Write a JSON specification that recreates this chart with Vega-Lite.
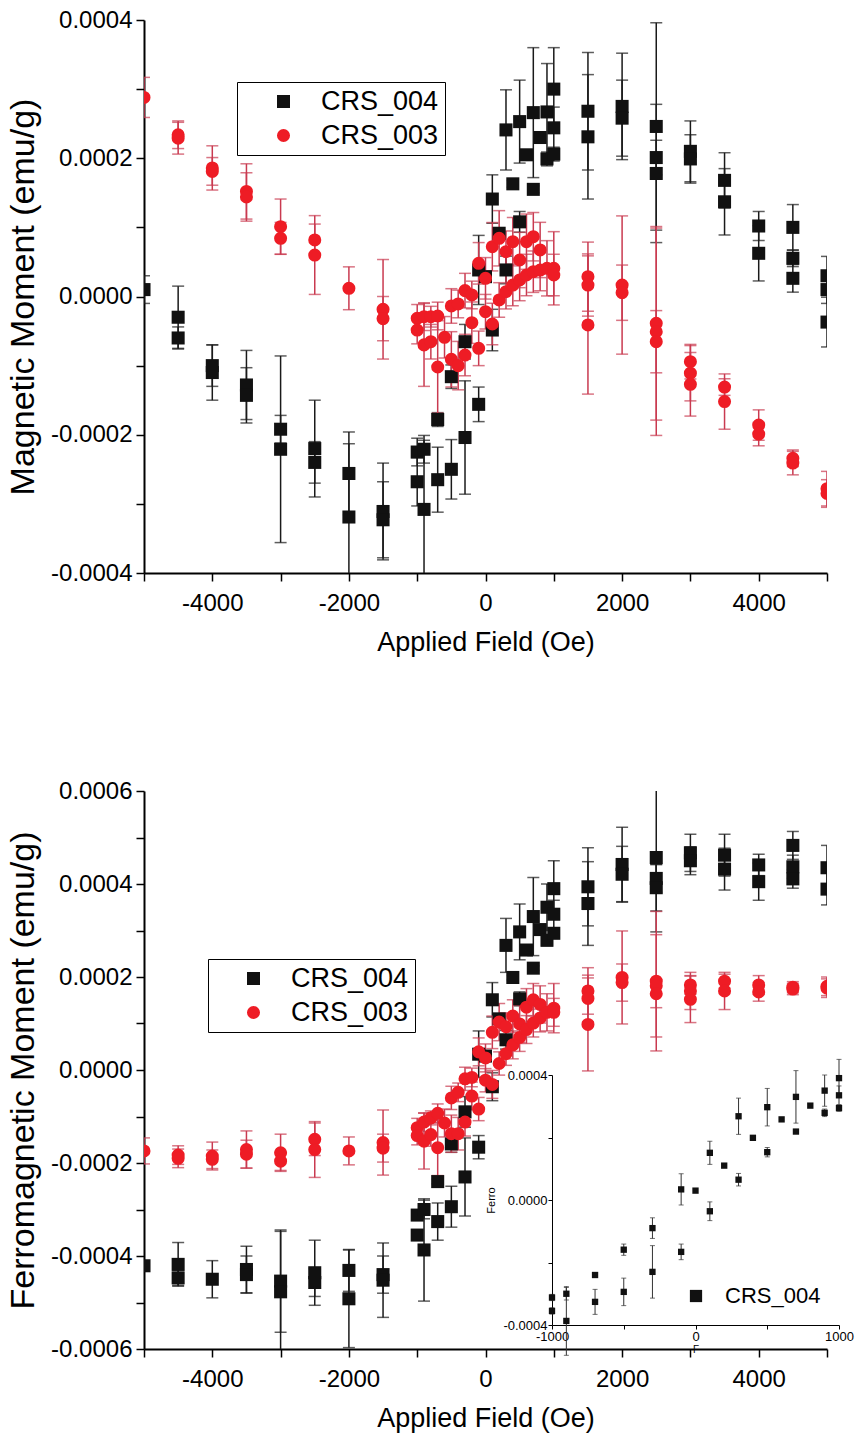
{
  "$schema": "https://vega.github.io/schema/vega-lite/v6.json",
  "background": "white",
  "padding": {"left": 6, "top": 8, "right": 10, "bottom": 2},
  "spacing": 124,
  "config": {
    "font": "Liberation Sans",
    "view": {"stroke": null},
    "axis": {"domainColor": "#000", "domainWidth": 2, "tickColor": "#000", "tickWidth": 1.5, "tickSize": 8, "labelColor": "#000", "titleColor": "#000", "titleFontWeight": "normal", "labelFont": "Liberation Sans", "titleFont": "Liberation Sans", "grid": false}
  },
  "datasets": {
    "top": [
      {"s":"CRS_004","f":-5000,"v":0.00001,"e":0.00002},
      {"s":"CRS_004","f":-4500,"v":-0.00003,"e":0.000045},
      {"s":"CRS_004","f":-4500,"v":-0.00006,"e":0.000016},
      {"s":"CRS_004","f":-4000,"v":-0.0001,"e":0.00003},
      {"s":"CRS_004","f":-4000,"v":-0.00011,"e":0.00004},
      {"s":"CRS_004","f":-3500,"v":-0.000128,"e":0.00005},
      {"s":"CRS_004","f":-3500,"v":-0.000143,"e":0.00004},
      {"s":"CRS_004","f":-3000,"v":-0.000192,"e":0.00002},
      {"s":"CRS_004","f":-3000,"v":-0.000221,"e":0.000135},
      {"s":"CRS_004","f":-2500,"v":-0.00022,"e":0.00007},
      {"s":"CRS_004","f":-2500,"v":-0.00024,"e":0.00003},
      {"s":"CRS_004","f":-2000,"v":-0.000256,"e":0.00006},
      {"s":"CRS_004","f":-2000,"v":-0.000319,"e":0.000106},
      {"s":"CRS_004","f":-1500,"v":-0.000311,"e":0.00007},
      {"s":"CRS_004","f":-1500,"v":-0.000323,"e":0.000055},
      {"s":"CRS_004","f":-1000,"v":-0.000225,"e":0.00002},
      {"s":"CRS_004","f":-1000,"v":-0.000268,"e":0.000035},
      {"s":"CRS_004","f":-900,"v":-0.000221,"e":0.00002},
      {"s":"CRS_004","f":-900,"v":-0.000308,"e":0.0001},
      {"s":"CRS_004","f":-700,"v":-0.000178,"e":0.00001},
      {"s":"CRS_004","f":-700,"v":-0.000265,"e":0.000047},
      {"s":"CRS_004","f":-500,"v":-0.000116,"e":0.000017},
      {"s":"CRS_004","f":-500,"v":-0.00025,"e":0.000043},
      {"s":"CRS_004","f":-300,"v":-0.0000654,"e":0.000025},
      {"s":"CRS_004","f":-300,"v":-0.000204,"e":0.000082},
      {"s":"CRS_004","f":-100,"v":0.0000384,"e":0.00005},
      {"s":"CRS_004","f":-100,"v":-0.000156,"e":0.000025},
      {"s":"CRS_004","f":0,"v":0.0000287,"e":0.000005},
      {"s":"CRS_004","f":100,"v":0.000141,"e":0.000035},
      {"s":"CRS_004","f":100,"v":-0.0000485,"e":0.00003},
      {"s":"CRS_004","f":200,"v":0.0000915,"e":0.000005},
      {"s":"CRS_004","f":300,"v":0.000241,"e":0.000058},
      {"s":"CRS_004","f":300,"v":0.0000384,"e":0.00002},
      {"s":"CRS_004","f":400,"v":0.000163,"e":0.000005},
      {"s":"CRS_004","f":500,"v":0.000253,"e":0.00006},
      {"s":"CRS_004","f":500,"v":0.000108,"e":0.000015},
      {"s":"CRS_004","f":600,"v":0.000205,"e":0.000005},
      {"s":"CRS_004","f":700,"v":0.000266,"e":0.000094},
      {"s":"CRS_004","f":700,"v":0.000155,"e":0.000005},
      {"s":"CRS_004","f":800,"v":0.00023,"e":0.000005},
      {"s":"CRS_004","f":900,"v":0.000267,"e":0.00007},
      {"s":"CRS_004","f":900,"v":0.000199,"e":0.00001},
      {"s":"CRS_004","f":1000,"v":0.0003,"e":0.00006},
      {"s":"CRS_004","f":1000,"v":0.000244,"e":0.00003},
      {"s":"CRS_004","f":1000,"v":0.000206,"e":0.00001},
      {"s":"CRS_004","f":1500,"v":0.000268,"e":0.000085},
      {"s":"CRS_004","f":1500,"v":0.000231,"e":0.00009},
      {"s":"CRS_004","f":2000,"v":0.000275,"e":0.000077},
      {"s":"CRS_004","f":2000,"v":0.000258,"e":0.000055},
      {"s":"CRS_004","f":2500,"v":0.000246,"e":0.00015},
      {"s":"CRS_004","f":2500,"v":0.000201,"e":0.000025},
      {"s":"CRS_004","f":2500,"v":0.000178,"e":0.0001},
      {"s":"CRS_004","f":3000,"v":0.00021,"e":0.000044},
      {"s":"CRS_004","f":3000,"v":0.000199,"e":0.000035},
      {"s":"CRS_004","f":3500,"v":0.000168,"e":0.00004},
      {"s":"CRS_004","f":3500,"v":0.000137,"e":0.000048},
      {"s":"CRS_004","f":4000,"v":0.000102,"e":0.000021},
      {"s":"CRS_004","f":4000,"v":0.0000625,"e":0.00004},
      {"s":"CRS_004","f":4500,"v":0.0001,"e":0.000033},
      {"s":"CRS_004","f":4500,"v":0.0000553,"e":0.000012},
      {"s":"CRS_004","f":4500,"v":0.0000263,"e":0.00002},
      {"s":"CRS_004","f":5000,"v":0.00003,"e":0.000028},
      {"s":"CRS_004","f":5000,"v":0.00001,"e":0.00002},
      {"s":"CRS_004","f":5000,"v":-0.000037,"e":0.000036},
      {"s":"CRS_003","f":-5000,"v":0.000288,"e":0.000029},
      {"s":"CRS_003","f":-4500,"v":0.000234,"e":0.00002},
      {"s":"CRS_003","f":-4500,"v":0.000229,"e":0.000023},
      {"s":"CRS_003","f":-4000,"v":0.000186,"e":0.000032},
      {"s":"CRS_003","f":-4000,"v":0.000181,"e":0.00002},
      {"s":"CRS_003","f":-3500,"v":0.000152,"e":0.00004},
      {"s":"CRS_003","f":-3500,"v":0.000144,"e":0.000035},
      {"s":"CRS_003","f":-3000,"v":0.000101,"e":0.00004},
      {"s":"CRS_003","f":-3000,"v":0.0000842,"e":0.000023},
      {"s":"CRS_003","f":-2500,"v":0.0000818,"e":0.000023},
      {"s":"CRS_003","f":-2500,"v":0.00006,"e":0.000057},
      {"s":"CRS_003","f":-2000,"v":0.0000119,"e":0.000031},
      {"s":"CRS_003","f":-1500,"v":-0.0000185,"e":0.000072},
      {"s":"CRS_003","f":-1500,"v":-0.000032,"e":0.000032},
      {"s":"CRS_003","f":-1000,"v":-0.0000316,"e":0.00002},
      {"s":"CRS_003","f":-1000,"v":-0.0000485,"e":0.00002},
      {"s":"CRS_003","f":-900,"v":-0.0000292,"e":0.00002},
      {"s":"CRS_003","f":-900,"v":-0.00007,"e":0.00006},
      {"s":"CRS_003","f":-800,"v":-0.0000292,"e":0.000015},
      {"s":"CRS_003","f":-800,"v":-0.0000654,"e":0.000025},
      {"s":"CRS_003","f":-700,"v":-0.0000282,"e":0.00002},
      {"s":"CRS_003","f":-700,"v":-0.000102,"e":0.000067},
      {"s":"CRS_003","f":-600,"v":-0.000059,"e":0.00003},
      {"s":"CRS_003","f":-500,"v":-0.0000137,"e":0.000025},
      {"s":"CRS_003","f":-500,"v":-0.0000909,"e":0.00004},
      {"s":"CRS_003","f":-400,"v":-0.0000108,"e":0.00002},
      {"s":"CRS_003","f":-400,"v":-0.0001,"e":0.000035},
      {"s":"CRS_003","f":-300,"v":0.0000085,"e":0.000025},
      {"s":"CRS_003","f":-300,"v":-0.0000847,"e":0.00003},
      {"s":"CRS_003","f":-200,"v":0.0000022,"e":0.00002},
      {"s":"CRS_003","f":-200,"v":-0.0000379,"e":0.00003},
      {"s":"CRS_003","f":-100,"v":0.000048,"e":0.00003},
      {"s":"CRS_003","f":-100,"v":-0.000075,"e":0.000025},
      {"s":"CRS_003","f":0,"v":0.0000263,"e":0.00003},
      {"s":"CRS_003","f":0,"v":-0.000022,"e":0.000025},
      {"s":"CRS_003","f":100,"v":0.000072,"e":0.000035},
      {"s":"CRS_003","f":100,"v":-0.0000398,"e":0.00003},
      {"s":"CRS_003","f":200,"v":0.0000842,"e":0.00004},
      {"s":"CRS_003","f":200,"v":-0.000005,"e":0.000025},
      {"s":"CRS_003","f":300,"v":0.0000648,"e":0.00003},
      {"s":"CRS_003","f":300,"v":0.000007,"e":0.000025},
      {"s":"CRS_003","f":400,"v":0.0000793,"e":0.000035},
      {"s":"CRS_003","f":400,"v":0.0000166,"e":0.00003},
      {"s":"CRS_003","f":500,"v":0.0000528,"e":0.00004},
      {"s":"CRS_003","f":500,"v":0.0000239,"e":0.00003},
      {"s":"CRS_003","f":600,"v":0.0000793,"e":0.00004},
      {"s":"CRS_003","f":600,"v":0.0000311,"e":0.00003},
      {"s":"CRS_003","f":700,"v":0.0000865,"e":0.000035},
      {"s":"CRS_003","f":700,"v":0.0000359,"e":0.00003},
      {"s":"CRS_003","f":800,"v":0.0000673,"e":0.00004},
      {"s":"CRS_003","f":800,"v":0.0000383,"e":0.00003},
      {"s":"CRS_003","f":900,"v":0.0000408,"e":0.00004},
      {"s":"CRS_003","f":1000,"v":0.0000408,"e":0.000053},
      {"s":"CRS_003","f":1000,"v":0.0000311,"e":0.00003},
      {"s":"CRS_003","f":1500,"v":0.0000287,"e":0.00005},
      {"s":"CRS_003","f":1500,"v":0.0000166,"e":0.000045},
      {"s":"CRS_003","f":1500,"v":-0.0000412,"e":0.0001},
      {"s":"CRS_003","f":2000,"v":0.0000166,"e":0.0001},
      {"s":"CRS_003","f":2000,"v":0.0000055,"e":0.00004},
      {"s":"CRS_003","f":2500,"v":-0.0000388,"e":0.00014},
      {"s":"CRS_003","f":2500,"v":-0.000051,"e":0.00015},
      {"s":"CRS_003","f":2500,"v":-0.0000654,"e":0.000045},
      {"s":"CRS_003","f":3000,"v":-0.0000943,"e":0.000025},
      {"s":"CRS_003","f":3000,"v":-0.000111,"e":0.00004},
      {"s":"CRS_003","f":3000,"v":-0.000127,"e":0.000046},
      {"s":"CRS_003","f":3500,"v":-0.000131,"e":0.000012},
      {"s":"CRS_003","f":3500,"v":-0.000152,"e":0.00004},
      {"s":"CRS_003","f":4000,"v":-0.000186,"e":0.000022},
      {"s":"CRS_003","f":4000,"v":-0.000199,"e":0.000017},
      {"s":"CRS_003","f":4500,"v":-0.000234,"e":0.000012},
      {"s":"CRS_003","f":4500,"v":-0.000241,"e":0.000017},
      {"s":"CRS_003","f":5000,"v":-0.000278,"e":0.000025},
      {"s":"CRS_003","f":5000,"v":-0.000285,"e":0.00002}
    ],
    "bottom": [
      {"s":"CRS_004","f":-5000,"v":-0.000421,"e":0.00001},
      {"s":"CRS_004","f":-4500,"v":-0.000418,"e":0.000047},
      {"s":"CRS_004","f":-4500,"v":-0.000447,"e":0.000016},
      {"s":"CRS_004","f":-4000,"v":-0.00045,"e":0.00004},
      {"s":"CRS_004","f":-3500,"v":-0.000429,"e":0.00005},
      {"s":"CRS_004","f":-3500,"v":-0.00044,"e":0.00004},
      {"s":"CRS_004","f":-3000,"v":-0.000454,"e":0.00011},
      {"s":"CRS_004","f":-3000,"v":-0.000477,"e":0.00013},
      {"s":"CRS_004","f":-2500,"v":-0.000436,"e":0.00007},
      {"s":"CRS_004","f":-2500,"v":-0.000457,"e":0.00003},
      {"s":"CRS_004","f":-2000,"v":-0.000431,"e":0.000045},
      {"s":"CRS_004","f":-2000,"v":-0.000492,"e":0.000105},
      {"s":"CRS_004","f":-1500,"v":-0.00044,"e":0.00004},
      {"s":"CRS_004","f":-1500,"v":-0.000452,"e":0.00008},
      {"s":"CRS_004","f":-1000,"v":-0.000312,"e":0.00001},
      {"s":"CRS_004","f":-1000,"v":-0.000355,"e":0.00001},
      {"s":"CRS_004","f":-900,"v":-0.0003,"e":0.00002},
      {"s":"CRS_004","f":-900,"v":-0.000387,"e":0.00011},
      {"s":"CRS_004","f":-700,"v":-0.00024,"e":0.000005},
      {"s":"CRS_004","f":-700,"v":-0.000326,"e":0.00004},
      {"s":"CRS_004","f":-500,"v":-0.000159,"e":0.000018},
      {"s":"CRS_004","f":-500,"v":-0.000294,"e":0.000044},
      {"s":"CRS_004","f":-300,"v":-0.00009,"e":0.000033},
      {"s":"CRS_004","f":-300,"v":-0.00023,"e":0.000084},
      {"s":"CRS_004","f":-100,"v":0.000034,"e":0.00005},
      {"s":"CRS_004","f":-100,"v":-0.000166,"e":0.000025},
      {"s":"CRS_004","f":0,"v":0.00003,"e":0.000005},
      {"s":"CRS_004","f":100,"v":0.000151,"e":0.000037},
      {"s":"CRS_004","f":100,"v":-0.000036,"e":0.00003},
      {"s":"CRS_004","f":200,"v":0.00011,"e":0.000005},
      {"s":"CRS_004","f":300,"v":0.000268,"e":0.000058},
      {"s":"CRS_004","f":300,"v":0.000065,"e":0.00002},
      {"s":"CRS_004","f":400,"v":0.000199,"e":0.000005},
      {"s":"CRS_004","f":500,"v":0.000297,"e":0.00006},
      {"s":"CRS_004","f":500,"v":0.000153,"e":0.000015},
      {"s":"CRS_004","f":600,"v":0.000258,"e":0.000005},
      {"s":"CRS_004","f":700,"v":0.00033,"e":0.000084},
      {"s":"CRS_004","f":700,"v":0.000219,"e":0.000005},
      {"s":"CRS_004","f":800,"v":0.000302,"e":0.000005},
      {"s":"CRS_004","f":900,"v":0.00035,"e":0.00005},
      {"s":"CRS_004","f":900,"v":0.000279,"e":0.000012},
      {"s":"CRS_004","f":1000,"v":0.00039,"e":0.00006},
      {"s":"CRS_004","f":1000,"v":0.000335,"e":0.00003},
      {"s":"CRS_004","f":1000,"v":0.000294,"e":0.00001},
      {"s":"CRS_004","f":1500,"v":0.000394,"e":0.000084},
      {"s":"CRS_004","f":1500,"v":0.000358,"e":0.00009},
      {"s":"CRS_004","f":2000,"v":0.000442,"e":0.00008},
      {"s":"CRS_004","f":2000,"v":0.000421,"e":0.00006},
      {"s":"CRS_004","f":2500,"v":0.000457,"e":0.00016},
      {"s":"CRS_004","f":2500,"v":0.000412,"e":0.00003},
      {"s":"CRS_004","f":2500,"v":0.000392,"e":0.00005},
      {"s":"CRS_004","f":3000,"v":0.000467,"e":0.00004},
      {"s":"CRS_004","f":3000,"v":0.00045,"e":0.00003},
      {"s":"CRS_004","f":3500,"v":0.000462,"e":0.000045},
      {"s":"CRS_004","f":3500,"v":0.000432,"e":0.000045},
      {"s":"CRS_004","f":4000,"v":0.000441,"e":0.000023},
      {"s":"CRS_004","f":4000,"v":0.000405,"e":0.00004},
      {"s":"CRS_004","f":4500,"v":0.000483,"e":0.00003},
      {"s":"CRS_004","f":4500,"v":0.000437,"e":0.000025},
      {"s":"CRS_004","f":4500,"v":0.000411,"e":0.00002},
      {"s":"CRS_004","f":5000,"v":0.000435,"e":0.000048},
      {"s":"CRS_004","f":5000,"v":0.000389,"e":0.000034},
      {"s":"CRS_003","f":-5000,"v":-0.000174,"e":0.000028},
      {"s":"CRS_003","f":-4500,"v":-0.000183,"e":0.00002},
      {"s":"CRS_003","f":-4500,"v":-0.00019,"e":0.00002},
      {"s":"CRS_003","f":-4000,"v":-0.000185,"e":0.00003},
      {"s":"CRS_003","f":-4000,"v":-0.000192,"e":0.00002},
      {"s":"CRS_003","f":-3500,"v":-0.000171,"e":0.00004},
      {"s":"CRS_003","f":-3500,"v":-0.000181,"e":0.00003},
      {"s":"CRS_003","f":-3000,"v":-0.000178,"e":0.00004},
      {"s":"CRS_003","f":-3000,"v":-0.000196,"e":0.00002},
      {"s":"CRS_003","f":-2500,"v":-0.000149,"e":0.000035},
      {"s":"CRS_003","f":-2500,"v":-0.000171,"e":0.00006},
      {"s":"CRS_003","f":-2000,"v":-0.000174,"e":0.00003},
      {"s":"CRS_003","f":-1500,"v":-0.000156,"e":0.00007},
      {"s":"CRS_003","f":-1500,"v":-0.000168,"e":0.00003},
      {"s":"CRS_003","f":-1000,"v":-0.000124,"e":0.00002},
      {"s":"CRS_003","f":-1000,"v":-0.000141,"e":0.00002},
      {"s":"CRS_003","f":-900,"v":-0.000112,"e":0.00002},
      {"s":"CRS_003","f":-900,"v":-0.000153,"e":0.00006},
      {"s":"CRS_003","f":-800,"v":-0.000103,"e":0.000015},
      {"s":"CRS_003","f":-800,"v":-0.000139,"e":0.000025},
      {"s":"CRS_003","f":-700,"v":-0.000093,"e":0.00002},
      {"s":"CRS_003","f":-700,"v":-0.000167,"e":0.00006},
      {"s":"CRS_003","f":-600,"v":-0.000114,"e":0.00003},
      {"s":"CRS_003","f":-500,"v":-0.00006,"e":0.000025},
      {"s":"CRS_003","f":-500,"v":-0.000137,"e":0.00004},
      {"s":"CRS_003","f":-400,"v":-0.000048,"e":0.00002},
      {"s":"CRS_003","f":-400,"v":-0.000137,"e":0.000035},
      {"s":"CRS_003","f":-300,"v":-0.000019,"e":0.000025},
      {"s":"CRS_003","f":-300,"v":-0.000112,"e":0.00003},
      {"s":"CRS_003","f":-200,"v":-0.000016,"e":0.00002},
      {"s":"CRS_003","f":-200,"v":-0.000056,"e":0.00003},
      {"s":"CRS_003","f":-100,"v":0.000039,"e":0.00003},
      {"s":"CRS_003","f":-100,"v":-0.000084,"e":0.000025},
      {"s":"CRS_003","f":0,"v":0.000026,"e":0.00003},
      {"s":"CRS_003","f":0,"v":-0.000022,"e":0.000025},
      {"s":"CRS_003","f":100,"v":0.000081,"e":0.000035},
      {"s":"CRS_003","f":100,"v":-0.000031,"e":0.00003},
      {"s":"CRS_003","f":200,"v":0.000103,"e":0.00004},
      {"s":"CRS_003","f":200,"v":0.000014,"e":0.000025},
      {"s":"CRS_003","f":300,"v":0.000093,"e":0.00003},
      {"s":"CRS_003","f":300,"v":0.000035,"e":0.000025},
      {"s":"CRS_003","f":400,"v":0.000116,"e":0.000035},
      {"s":"CRS_003","f":400,"v":0.000054,"e":0.00003},
      {"s":"CRS_003","f":500,"v":0.000099,"e":0.00004},
      {"s":"CRS_003","f":500,"v":0.00007,"e":0.00003},
      {"s":"CRS_003","f":600,"v":0.000135,"e":0.00004},
      {"s":"CRS_003","f":600,"v":0.000087,"e":0.00003},
      {"s":"CRS_003","f":700,"v":0.000151,"e":0.000035},
      {"s":"CRS_003","f":700,"v":0.000101,"e":0.00003},
      {"s":"CRS_003","f":800,"v":0.000141,"e":0.00004},
      {"s":"CRS_003","f":800,"v":0.000112,"e":0.00003},
      {"s":"CRS_003","f":900,"v":0.000124,"e":0.00004},
      {"s":"CRS_003","f":1000,"v":0.000133,"e":0.000053},
      {"s":"CRS_003","f":1000,"v":0.000124,"e":0.00003},
      {"s":"CRS_003","f":1500,"v":0.00017,"e":0.00005},
      {"s":"CRS_003","f":1500,"v":0.000154,"e":0.00005},
      {"s":"CRS_003","f":1500,"v":0.000098,"e":0.0001},
      {"s":"CRS_003","f":2000,"v":0.000199,"e":0.0001},
      {"s":"CRS_003","f":2000,"v":0.000188,"e":0.00004},
      {"s":"CRS_003","f":2500,"v":0.000191,"e":0.00015},
      {"s":"CRS_003","f":2500,"v":0.000181,"e":0.00011},
      {"s":"CRS_003","f":2500,"v":0.000164,"e":0.00003},
      {"s":"CRS_003","f":3000,"v":0.000183,"e":0.00002},
      {"s":"CRS_003","f":3000,"v":0.00017,"e":0.00004},
      {"s":"CRS_003","f":3000,"v":0.000152,"e":0.00005},
      {"s":"CRS_003","f":3500,"v":0.000191,"e":0.000015},
      {"s":"CRS_003","f":3500,"v":0.00017,"e":0.00004},
      {"s":"CRS_003","f":4000,"v":0.000183,"e":0.00002},
      {"s":"CRS_003","f":4000,"v":0.000168,"e":0.00002},
      {"s":"CRS_003","f":4500,"v":0.000178,"e":0.000012},
      {"s":"CRS_003","f":4500,"v":0.000174,"e":0.000012},
      {"s":"CRS_003","f":5000,"v":0.00018,"e":0.00002},
      {"s":"CRS_003","f":5000,"v":0.000176,"e":0.00002}
    ]
  },
  "resolve": {"scale": {"color": "independent", "shape": "independent"}, "legend": {"color": "independent", "shape": "independent"}},
  "vconcat": [
    {
      "width": 683,
      "height": 553,
      "data": {"name": "top"},
      "encoding": {
        "x": {"field": "f", "type": "quantitative", "scale": {"domain": [-5000, 5000], "nice": false, "zero": false},
          "axis": {"title": "Applied Field (Oe)", "values": [-5000, -4000, -3000, -2000, -1000, 0, 1000, 2000, 3000, 4000, 5000], "labelExpr": "abs(datum.value) % 2000 != 0 ? '' : (datum.value < 0 ? '-' : '') + abs(datum.value)", "labelFontSize": 24, "titleFontSize": 27, "labelPadding": 10, "titlePadding": 14}},
        "y": {"field": "v", "type": "quantitative", "scale": {"domain": [-0.0004, 0.0004], "nice": false, "zero": false},
          "axis": {"title": "Magnetic Moment (emu/g)", "values": [-0.0004, -0.0003, -0.0002, -0.0001, 0, 0.0001, 0.0002, 0.0003, 0.0004], "labelExpr": "abs(round(datum.value*10000)) % 2 == 1 ? '' : (datum.value < 0 ? '-' : '') + format(abs(datum.value), '.4f')", "labelFontSize": 24, "titleFontSize": 34, "labelPadding": 4, "titlePadding": 10}}
      },
      "layer": [
        {"transform": [{"filter": "datum.s == 'CRS_004'"}], "mark": {"type": "errorbar", "ticks": {"size": 12, "thickness": 1.5}, "thickness": 1.5, "color": "#1a1a1a", "clip": true}, "encoding": {"yError": {"field": "e"}}},
        {"transform": [{"filter": "datum.s == 'CRS_003'"}], "mark": {"type": "errorbar", "ticks": {"size": 12, "thickness": 1.5}, "thickness": 1.5, "color": "#c93a50", "clip": true}, "encoding": {"yError": {"field": "e"}}},
        {"mark": {"type": "point", "filled": true, "opacity": 1, "size": 170, "clip": true},
          "encoding": {
            "color": {"field": "s", "type": "nominal", "scale": {"domain": ["CRS_004", "CRS_003"], "range": ["#111111", "#ee1c25"]},
              "legend": {"title": null, "orient": "none", "legendX": 93, "legendY": 62, "strokeColor": "#000", "fillColor": "white", "padding": 6, "symbolOffset": 27, "labelOffset": 24, "labelFontSize": 27, "labelFont": "Liberation Sans", "labelColor": "#000", "symbolSize": 170, "rowPadding": 6, "symbolStrokeWidth": 0}},
            "shape": {"field": "s", "type": "nominal", "scale": {"domain": ["CRS_004", "CRS_003"], "range": ["square", "circle"]},
              "legend": {"title": null, "orient": "none", "legendX": 93, "legendY": 62, "strokeColor": "#000", "fillColor": "white", "padding": 6, "symbolOffset": 27, "labelOffset": 24, "labelFontSize": 27, "labelFont": "Liberation Sans", "labelColor": "#000", "symbolSize": 170, "rowPadding": 6, "symbolStrokeWidth": 0}}
          }}
      ]
    },
    {
      "width": 683,
      "height": 558,
      "resolve": {"scale": {"x": "independent", "y": "independent", "color": "independent", "shape": "independent"}, "axis": {"x": "independent", "y": "independent"}, "legend": {"color": "independent", "shape": "independent"}},
      "layer": [
        {
          "data": {"name": "bottom"},
          "encoding": {
            "x": {"field": "f", "type": "quantitative", "scale": {"domain": [-5000, 5000], "nice": false, "zero": false},
              "axis": {"orient": "bottom", "title": "Applied Field (Oe)", "values": [-5000, -4000, -3000, -2000, -1000, 0, 1000, 2000, 3000, 4000, 5000], "labelExpr": "abs(datum.value) % 2000 != 0 ? '' : (datum.value < 0 ? '-' : '') + abs(datum.value)", "labelFontSize": 24, "titleFontSize": 27, "labelPadding": 10, "titlePadding": 14}},
            "y": {"field": "v", "type": "quantitative", "scale": {"domain": [-0.0006, 0.0006], "nice": false, "zero": false},
              "axis": {"orient": "left", "title": "Ferromagnetic Moment (emu/g)", "values": [-0.0006, -0.0005, -0.0004, -0.0003, -0.0002, -0.0001, 0, 0.0001, 0.0002, 0.0003, 0.0004, 0.0005, 0.0006], "labelExpr": "abs(round(datum.value*10000)) % 2 == 1 ? '' : (datum.value < 0 ? '-' : '') + format(abs(datum.value), '.4f')", "labelFontSize": 24, "titleFontSize": 34, "labelPadding": 4, "titlePadding": 10}}
          },
          "layer": [
            {"transform": [{"filter": "datum.s == 'CRS_004'"}], "mark": {"type": "errorbar", "ticks": {"size": 12, "thickness": 1.5}, "thickness": 1.5, "color": "#1a1a1a", "clip": true}, "encoding": {"yError": {"field": "e"}}},
            {"transform": [{"filter": "datum.s == 'CRS_003'"}], "mark": {"type": "errorbar", "ticks": {"size": 12, "thickness": 1.5}, "thickness": 1.5, "color": "#c93a50", "clip": true}, "encoding": {"yError": {"field": "e"}}},
            {"mark": {"type": "point", "filled": true, "opacity": 1, "size": 170, "clip": true},
              "encoding": {
                "color": {"field": "s", "type": "nominal", "scale": {"domain": ["CRS_004", "CRS_003"], "range": ["#111111", "#ee1c25"]},
                  "legend": {"title": null, "orient": "none", "legendX": 64, "legendY": 168, "strokeColor": "#000", "fillColor": "white", "padding": 6, "symbolOffset": 26, "labelOffset": 24, "labelFontSize": 27, "labelFont": "Liberation Sans", "labelColor": "#000", "symbolSize": 170, "rowPadding": 6, "symbolStrokeWidth": 0}},
                "shape": {"field": "s", "type": "nominal", "scale": {"domain": ["CRS_004", "CRS_003"], "range": ["square", "circle"]},
                  "legend": {"title": null, "orient": "none", "legendX": 64, "legendY": 168, "strokeColor": "#000", "fillColor": "white", "padding": 6, "symbolOffset": 26, "labelOffset": 24, "labelFontSize": 27, "labelFont": "Liberation Sans", "labelColor": "#000", "symbolSize": 170, "rowPadding": 6, "symbolStrokeWidth": 0}}
              }}
          ]
        },
        {
          "data": {"name": "bottom"},
          "transform": [{"filter": "datum.s == 'CRS_004' && datum.f >= -1000 && datum.f <= 1000"}],
          "encoding": {
            "x": {"field": "f", "type": "quantitative", "scale": {"domain": [-1000, 1000], "range": [408, 695], "nice": false, "zero": false},
              "axis": {"orient": "bottom", "offset": -24, "title": "F", "values": [-1000, -500, 0, 500, 1000], "labelExpr": "abs(datum.value) % 1000 != 0 ? '' : (datum.value < 0 ? '-' : '') + abs(datum.value)", "labelFlush": false, "labelFontSize": 13, "titleFontSize": 10, "tickSize": 4, "tickWidth": 1, "domainWidth": 1, "labelPadding": 1, "titlePadding": 1}},
            "y": {"field": "v", "type": "quantitative", "scale": {"domain": [-0.0004, 0.0004], "range": [534, 284], "nice": false, "zero": false},
              "axis": {"orient": "left", "offset": -408, "title": "Ferro", "values": [-0.0004, -0.0002, 0, 0.0002, 0.0004], "labelExpr": "abs(round(datum.value*10000)) % 4 == 2 ? '' : (datum.value < 0 ? '-' : '') + format(abs(datum.value), '.4f')", "labelFontSize": 13, "titleFontSize": 11, "tickSize": 4, "tickWidth": 1, "domainWidth": 1, "labelPadding": 1, "titlePadding": 6}}
          },
          "layer": [
            {"mark": {"type": "errorbar", "ticks": {"size": 5, "thickness": 1}, "thickness": 1, "color": "#333333"}, "encoding": {"yError": {"field": "e"}}},
            {"mark": {"type": "point", "filled": true, "opacity": 1, "size": 40},
              "encoding": {
                "color": {"field": "s", "type": "nominal", "scale": {"domain": ["CRS_004"], "range": ["#111111"]},
                  "legend": {"title": null, "orient": "none", "legendX": 541, "legendY": 494, "padding": 0, "labelOffset": 18, "labelFontSize": 22, "labelFont": "Liberation Sans", "labelColor": "#000", "symbolSize": 150, "symbolStrokeWidth": 0}},
                "shape": {"field": "s", "type": "nominal", "scale": {"domain": ["CRS_004"], "range": ["square"]},
                  "legend": {"title": null, "orient": "none", "legendX": 541, "legendY": 494, "padding": 0, "labelOffset": 18, "labelFontSize": 22, "labelFont": "Liberation Sans", "labelColor": "#000", "symbolSize": 150, "symbolStrokeWidth": 0}}
              }}
          ]
        }
      ]
    }
  ]
}
